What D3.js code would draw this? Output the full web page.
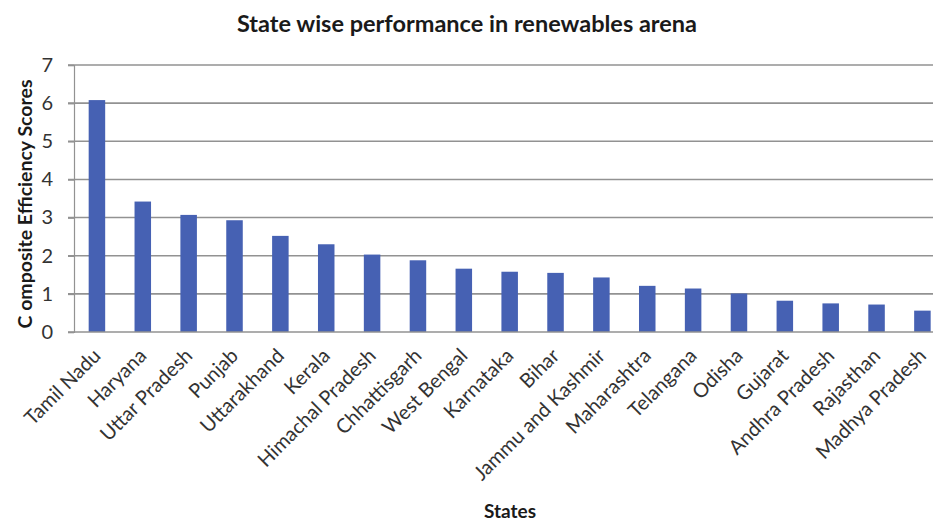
<!DOCTYPE html>
<html><head><meta charset="utf-8">
<script src="https://cdn.jsdelivr.net/npm/d3@7"></script>
<style>body{margin:0;background:#fff}svg{display:block}</style>
</head><body>
<svg id="c" width="933" height="521"></svg>
<script>
const states = ["Tamil Nadu","Haryana","Uttar Pradesh","Punjab","Uttarakhand","Kerala","Himachal Pradesh","Chhattisgarh","West Bengal","Karnataka","Bihar","Jammu and Kashmir","Maharashtra","Telangana","Odisha","Gujarat","Andhra Pradesh","Rajasthan","Madhya Pradesh"];
const scores = [6.08,3.42,3.07,2.93,2.52,2.30,2.03,1.88,1.66,1.58,1.55,1.43,1.21,1.14,1.01,0.82,0.75,0.72,0.56];
const yTicks = [0,1,2,3,4,5,6,7];
const title = "State wise performance in renewables arena";
const yTitle = "C omposite Efficiency Scores";
const xTitle = "States";

(function(){
const svg = d3.select("#c");
const mLeft = 74, mTop = 65, mBottom = 332;
const step = 45.86;
const mRight = mLeft + step * states.length;
const font = "Lato, 'Open Sans', sans-serif";

const x = d3.scaleBand().domain(states).range([mLeft, mRight]).paddingInner(0.64).paddingOuter(0.32);
const y = d3.scaleLinear().domain([0, 7]).range([mBottom, mTop]);

svg.append("g").selectAll("line").data(yTicks.filter(d => d > 0)).join("line")
  .attr("x1", mLeft - 6).attr("x2", 933).attr("y1", d => y(d)).attr("y2", d => y(d))
  .attr("stroke", "#929292").attr("stroke-width", 1.6);

svg.append("g").selectAll("rect").data(states).join("rect")
  .attr("x", d => x(d)).attr("width", x.bandwidth())
  .attr("y", (d, i) => y(scores[i])).attr("height", (d, i) => mBottom - y(scores[i]))
  .attr("fill", "#4661b3");

const yAxis = svg.append("g").attr("transform", `translate(${mLeft},0)`)
  .call(d3.axisLeft(y).tickValues(yTicks).tickSize(6).tickPadding(15).tickFormat(d3.format("d")));
yAxis.select(".domain").attr("stroke", "#929292").attr("stroke-width", 1.2);
yAxis.selectAll(".tick line").attr("stroke", "#929292").attr("stroke-width", 1.6);
yAxis.selectAll(".tick text").attr("font-family", font).attr("font-size", 20).attr("fill", "#333");

const xAxis = svg.append("g").attr("transform", `translate(0,${mBottom})`)
  .call(d3.axisBottom(x).tickSize(0).tickPadding(0));
xAxis.select(".domain").attr("d", `M${mLeft - 6},0H933`).attr("stroke", "#929292").attr("stroke-width", 1.6);
xAxis.selectAll(".tick text")
  .attr("font-family", font).attr("font-size", 20).attr("fill", "#333")
  .attr("text-anchor", "end").attr("dy", 0).attr("y", 0)
  .attr("transform", "translate(5,25) rotate(-45)");

svg.append("text").attr("x", 467).attr("y", 32).attr("text-anchor", "middle")
  .attr("font-family", font).attr("font-weight", "bold").attr("font-size", 23.5).attr("fill", "#1a1a1a")
  .text(title);
svg.append("text").attr("transform", "translate(32,204) rotate(-90)").attr("text-anchor", "middle")
  .attr("font-family", font).attr("font-weight", "bold").attr("font-size", 19.5).attr("fill", "#1a1a1a")
  .text(yTitle);
svg.append("text").attr("x", 510).attr("y", 518).attr("text-anchor", "middle")
  .attr("font-family", font).attr("font-weight", "bold").attr("font-size", 19).attr("fill", "#1a1a1a")
  .text(xTitle);
})();
</script>
</body></html>
